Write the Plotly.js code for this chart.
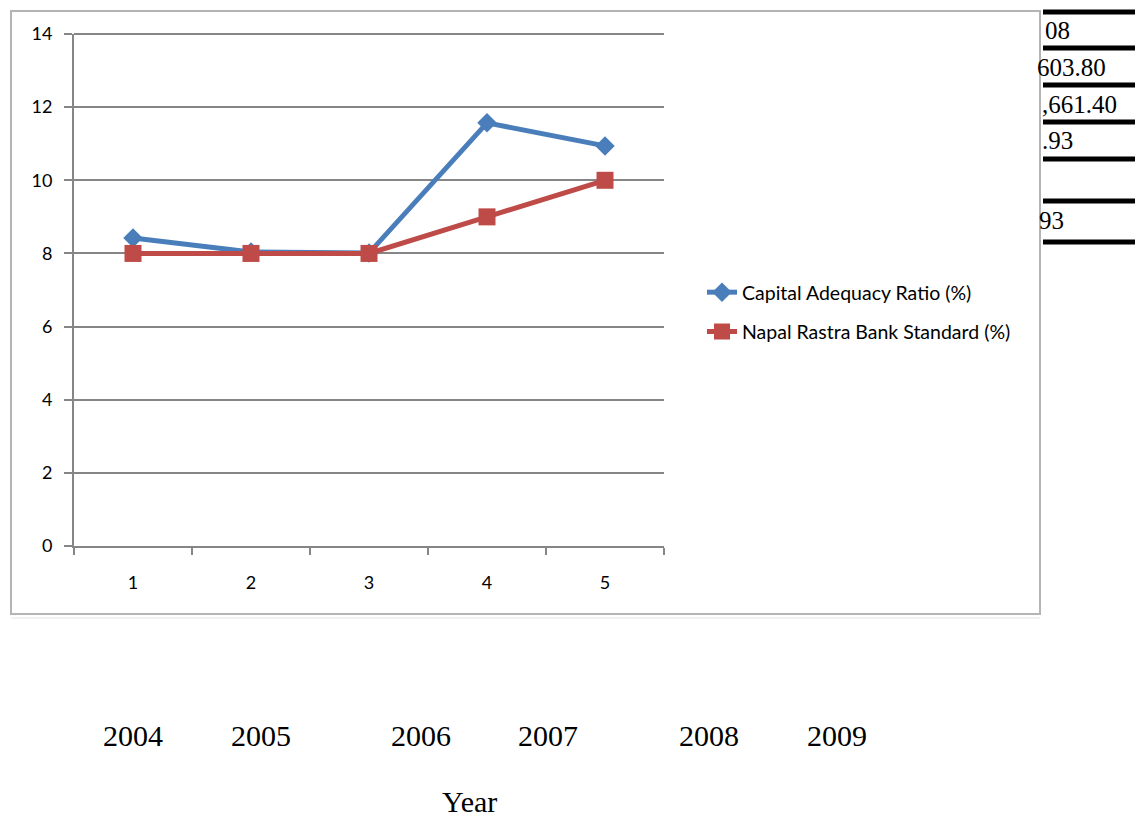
<!DOCTYPE html>
<html>
<head>
<meta charset="utf-8">
<script src="https://cdn.plot.ly/plotly-3.0.1.min.js"></script>
<style>html,body{margin:0;padding:0;background:#fff;}#chart{width:1135px;height:818px;}</style>
</head>
<body>
<div id="chart"></div>
<script>
// ---- data ----
const categories = ['1', '2', '3', '4', '5'];
const capitalAdequacy = [8.42, 8.04, 8.01, 11.57, 10.94];
const nrbStandard = [8, 8, 8, 9, 10];
const seriesNames = ['Capital Adequacy Ratio (%)', 'Napal Rastra Bank Standard (%)'];
const yearLabels = ['2004', '2005', '2006', '2007', '2008', '2009'];
const axisLabel = 'Year';
const tableFragments = ['08', '603.80', ',661.40', '.93', '93'];

// ---- layout helpers (pixel -> paper) ----
const W = 1135, H = 818, L = 74, R = 664, T = 34, B = 546;
const px = X => (X - L) / (R - L);
const py = Y => (B - Y) / (B - T);

const yearX = [133, 261, 421, 548, 709, 837];
const fragY = [30, 67, 104, 140, 220];
const fragX = [1043, 1035, 1040, 1040, 1037];
const tableLineY = [12, 48, 85, 122, 159, 201, 242];

const traces = [
  {
    x: categories.map(Number), y: capitalAdequacy, name: seriesNames[0],
    type: 'scatter', mode: 'lines+markers', legendgroup: 'a',
    line: {color: '#4a7ebb', width: 5},
    marker: {symbol: 'diamond', size: 15, color: '#4a7ebb'}
  },
  {
    x: categories.map(Number), y: nrbStandard, name: seriesNames[1],
    type: 'scatter', mode: 'lines+markers', legendgroup: 'b',
    line: {color: '#be4b48', width: 5},
    marker: {symbol: 'square', size: 17, color: '#be4b48'}
  }
];

const shapes = [
  // chart frame
  {type: 'rect', xref: 'paper', yref: 'paper', x0: px(11), x1: px(1040), y0: py(614), y1: py(11),
   line: {color: '#b4b4b4', width: 2}, layer: 'below'},
  {type: 'line', xref: 'paper', yref: 'paper', x0: px(11), x1: px(1040), y0: py(618), y1: py(618),
   line: {color: '#e2e6e6', width: 1}},
  // top gridline (at the edge of the plot area)
  {type: 'line', xref: 'paper', yref: 'paper', x0: 0, x1: 1, y0: 1, y1: 1,
   line: {color: '#868686', width: 2}, layer: 'below'}
];
tableLineY.forEach(y => shapes.push({
  type: 'line', xref: 'paper', yref: 'paper', x0: px(1043), x1: px(1135), y0: py(y), y1: py(y),
  line: {color: '#000', width: 5}
}));

const annotations = [];
yearLabels.forEach((t, i) => annotations.push({
  text: t, xref: 'paper', yref: 'paper', x: px(yearX[i]), y: py(735), xanchor: 'center', yanchor: 'middle',
  showarrow: false, font: {family: 'Liberation Serif', size: 30, color: '#000'}
}));
annotations.push({
  text: axisLabel, xref: 'paper', yref: 'paper', x: px(469), y: py(801), xanchor: 'center', yanchor: 'middle',
  showarrow: false, borderpad: 0, font: {family: 'Liberation Serif', size: 30, color: '#000'}
});
tableFragments.forEach((t, i) => annotations.push({
  text: t, xref: 'paper', yref: 'paper', x: px(fragX[i]), y: py(fragY[i]), xanchor: 'left', yanchor: 'middle',
  showarrow: false, font: {family: 'Liberation Serif', size: 25, color: '#000'}
}));

const layout = {
  width: W, height: H,
  margin: {l: L, r: W - R, t: T, b: H - B, pad: 0},
  paper_bgcolor: '#fff', plot_bgcolor: '#fff',
  showlegend: true,
  legend: {x: px(702), y: py(273), xanchor: 'left', yanchor: 'top', traceorder: 'grouped', tracegroupgap: 11,
           font: {family: 'Lato', size: 19.5, color: '#000'}, bgcolor: 'rgba(0,0,0,0)'},
  xaxis: {
    range: [0.5, 5.5], tickmode: 'array', tickvals: categories.map(Number), ticktext: categories,
    ticks: '', showgrid: false, zeroline: false, showline: true, linecolor: '#868686', linewidth: 2,
    ticklabelstandoff: 19, tickfont: {family: 'Lato', size: 18, color: '#000'},
    minor: {tick0: 0.5, dtick: 1, ticks: 'outside', ticklen: 7, tickwidth: 2, tickcolor: '#868686', showgrid: false},
    fixedrange: true
  },
  yaxis: {
    range: [0, 14], dtick: 2, tick0: 0, showgrid: true, gridcolor: '#868686', gridwidth: 2,
    zeroline: false, showline: true, linecolor: '#868686', linewidth: 2,
    ticks: 'outside', ticklen: 8, tickwidth: 2, tickcolor: '#868686', ticklabelstandoff: 8,
    tickfont: {family: 'Lato', size: 18, color: '#000'}, fixedrange: true
  },
  shapes: shapes,
  annotations: annotations
};

Plotly.newPlot('chart', traces, layout, {displayModeBar: false, staticPlot: true});
</script>
</body>
</html>
